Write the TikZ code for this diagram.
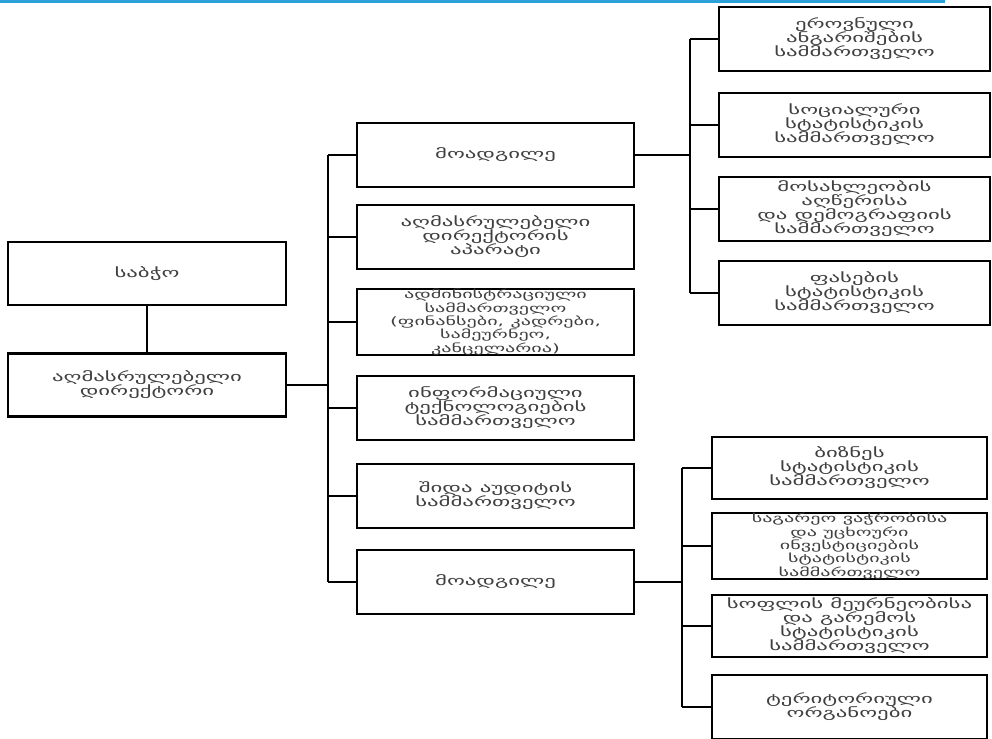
\documentclass[tikz,border=0pt]{standalone}
\usepackage{fontspec}
\setmainfont{DejaVu Sans}[FakeStretch=1.75]
\definecolor{rulblue}{RGB}{45,160,220}
\begin{document}
\begin{tikzpicture}[x=1pt,y=-1pt,unit/.style={shape=rectangle,draw=black,line width=2.4pt,align=center,inner sep=0pt,text=black!75,font=\fontsize{13}{14}\selectfont},unitL/.style={unit,minimum width=278,minimum height=63},unitM/.style={unit,minimum width=277,minimum height=64},unitR/.style={unit,minimum width=271,minimum height=64},unitB/.style={unit,minimum width=275,minimum height=62},dense/.style={font=\fontsize{11.5}{11.8}\selectfont},link/.style={line width=1.6pt}]
\useasboundingbox (0,0) rectangle (992,738);
\def\xl{147};
\def\xm{495.5};
\def\xr{854.5};
\def\xb{849.5};

\draw[rulblue,line width=3pt] (0,1.5) -- (945,1.5);

\coordinate (ta) at (328,0);
\coordinate (tb) at (690,0);
\coordinate (tc) at (682,0);

\node[unitL] (board) at (\xl,273.5) {საბჭო};
\node[unitL] (dir) at (\xl,385) {აღმასრულებელი\\დირექტორი};
\draw[link] (board.south) -- (dir.north);

\node[unitM] (depA) at (\xm,155) {მოადგილე};
\node[unitM] (staff) at (\xm,237) {აღმასრულებელი\\დირექტორის\\აპარატი};
\node[unitM,dense] (admin) at (\xm,322) {ადმინისტრაციული\\სამმართველო\\(ფინანსები, კადრები,\\სამეურნეო,\\კანცელარია)};
\node[unitM] (itd) at (\xm,408) {ინფორმაციული\\ტექნოლოგიების\\სამმართველო};
\node[unitM] (audit) at (\xm,496) {შიდა აუდიტის\\სამმართველო};
\node[unitM] (depB) at (\xm,582) {მოადგილე};
\draw[link] (dir.east) -- (dir.east -| ta);
\draw[link] (depA.west -| ta) -- (depB.west -| ta);
\draw[link] (depA.west) -- (depA.west -| ta);
\draw[link] (staff.west) -- (staff.west -| ta);
\draw[link] (admin.west) -- (admin.west -| ta);
\draw[link] (itd.west) -- (itd.west -| ta);
\draw[link] (audit.west) -- (audit.west -| ta);
\draw[link] (depB.west) -- (depB.west -| ta);

\node[unitR] (natacc) at (\xr,39) {ეროვნული\\ანგარიშების\\სამმართველო};
\node[unitR] (social) at (\xr,125) {სოციალური\\სტატისტიკის\\სამმართველო};
\node[unitR] (census) at (\xr,209) {მოსახლეობის\\აღწერისა\\და დემოგრაფიის\\სამმართველო};
\node[unitR] (prices) at (\xr,293) {ფასების\\სტატისტიკის\\სამმართველო};
\draw[link] (depA.east) -- (depA.east -| tb);
\draw[link] (natacc.west -| tb) -- (prices.west -| tb);
\draw[link] (natacc.west) -- (natacc.west -| tb);
\draw[link] (social.west) -- (social.west -| tb);
\draw[link] (census.west) -- (census.west -| tb);
\draw[link] (prices.west) -- (prices.west -| tb);

\node[unitB] (business) at (\xb,468) {ბიზნეს\\სტატისტიკის\\სამმართველო};
\node[unitB,dense] (trade) at (\xb,546) {საგარეო ვაჭრობისა\\და უცხოური\\ინვესტიციების\\სტატისტიკის\\სამმართველო};
\node[unitB] (agri) at (\xb,626) {სოფლის მეურნეობისა\\და გარემოს\\სტატისტიკის\\სამმართველო};
\node[unitB,minimum height=64] (regions) at (\xb,707) {ტერიტორიული\\ორგანოები};
\draw[link] (depB.east) -- (depB.east -| tc);
\draw[link] (business.west -| tc) -- (regions.west -| tc);
\draw[link] (business.west) -- (business.west -| tc);
\draw[link] (trade.west) -- (trade.west -| tc);
\draw[link] (agri.west) -- (agri.west -| tc);
\draw[link] (regions.west) -- (regions.west -| tc);
\end{tikzpicture}
\end{document}
